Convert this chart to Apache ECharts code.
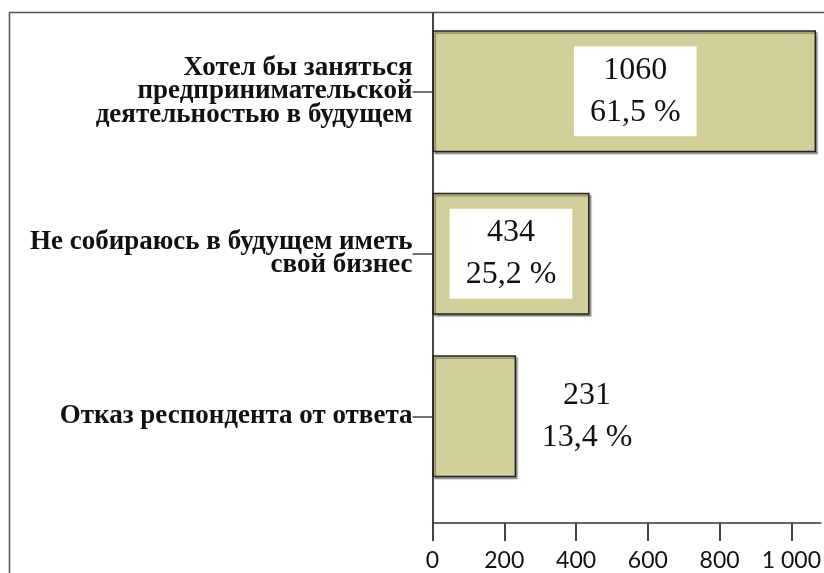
<!DOCTYPE html>
<html>
<head>
<meta charset="utf-8">
<script src="https://cdn.jsdelivr.net/npm/echarts@6/dist/echarts.min.js"></script>
<style>
  html, body { margin: 0; padding: 0; background: #fff; }
  #chart { width: 824px; height: 573px; }
</style>
</head>
<body>
<div id="chart"></div>
<script>
// данные
const categories = [
  'Хотел бы заняться\nпредпринимательской\nдеятельностью в будущем',
  'Не собираюсь в будущем иметь\nсвой бизнес',
  'Отказ респондента от ответа'
];
const counts = [1060, 434, 231];
const percents = ['61,5', '25,2', '13,4'];
const xTicks = [0, 200, 400, 600, 800, 1000];

const X_MAX = 1082;
const serif = '"Liberation Serif", "Times New Roman", serif';

const chart = echarts.init(document.getElementById('chart'));

const labelBase = {
  show: true,
  fontFamily: serif,
  fontSize: 32,
  lineHeight: 42,
  color: '#111',
  formatter: p => `${counts[p.dataIndex]}\n${percents[p.dataIndex]} %`
};

const barData = counts.map((v, i) => {
  if (i === 2) {
    return { value: v, label: Object.assign({}, labelBase, { position: 'right', align: 'center', distance: 71 }) };
  }
  return {
    value: v,
    label: Object.assign({}, labelBase, {
      position: 'inside',
      backgroundColor: '#fff',
      padding: [3, 16],
      offset: i === 0 ? [11, 0] : [0, 0]
    })
  };
});

chart.setOption({
  animation: false,
  graphic: [{
    type: 'rect',
    shape: { x: 9.5, y: 12.5, width: 840, height: 600 },
    style: { fill: 'none', stroke: '#555', lineWidth: 1.5 },
    silent: true
  }],
  grid: [
    { left: 432.5, right: 0, top: 13, bottom: 50 },
    { left: 432.5, right: 0, top: 10, bottom: 75.5 }
  ],
  xAxis: [{
    gridIndex: 0,
    type: 'value',
    min: 0, max: X_MAX,
    axisLine: { show: true, lineStyle: { color: '#333', width: 1.5 } },
    axisTick: { show: true, length: 18, lineStyle: { color: '#444', width: 2 }, customValues: xTicks },
    axisLabel: {
      customValues: xTicks,
      margin: 26,
      fontFamily: 'Lato, "Open Sans", sans-serif',
      fontSize: 23,
      color: '#111',
      formatter: v => String(v).replace(/\B(?=(\d{3})+(?!\d))/g, ' ')
    },
    splitLine: { show: false }
  }, {
    gridIndex: 1,
    type: 'value',
    min: 0, max: X_MAX,
    show: false
  }],
  yAxis: [{
    gridIndex: 0,
    type: 'value',
    min: 0, max: 1,
    axisLine: { show: true, lineStyle: { color: '#444', width: 2 } },
    axisTick: { show: false },
    axisLabel: { show: false },
    splitLine: { show: false }
  }, {
    gridIndex: 1,
    type: 'category',
    inverse: true,
    data: categories,
    axisLine: { show: false },
    axisTick: { show: true, alignWithLabel: true, length: 20, lineStyle: { color: '#444', width: 1.5 } },
    axisLabel: {
      margin: 20,
      fontFamily: serif,
      fontWeight: 'bold',
      fontSize: 27,
      lineHeight: 23.5,
      color: '#111',
      align: 'right'
    }
  }],
  series: [{
    type: 'bar',
    xAxisIndex: 1,
    yAxisIndex: 1,
    barWidth: 122,
    data: barData,
    itemStyle: {
      color: '#D3CF99',
      borderColor: '#222',
      borderWidth: 1.5,
      shadowColor: 'rgba(0,0,0,0.35)',
      shadowOffsetX: 2,
      shadowOffsetY: 2,
      shadowBlur: 1
    }
  }]
});
</script>
</body>
</html>
